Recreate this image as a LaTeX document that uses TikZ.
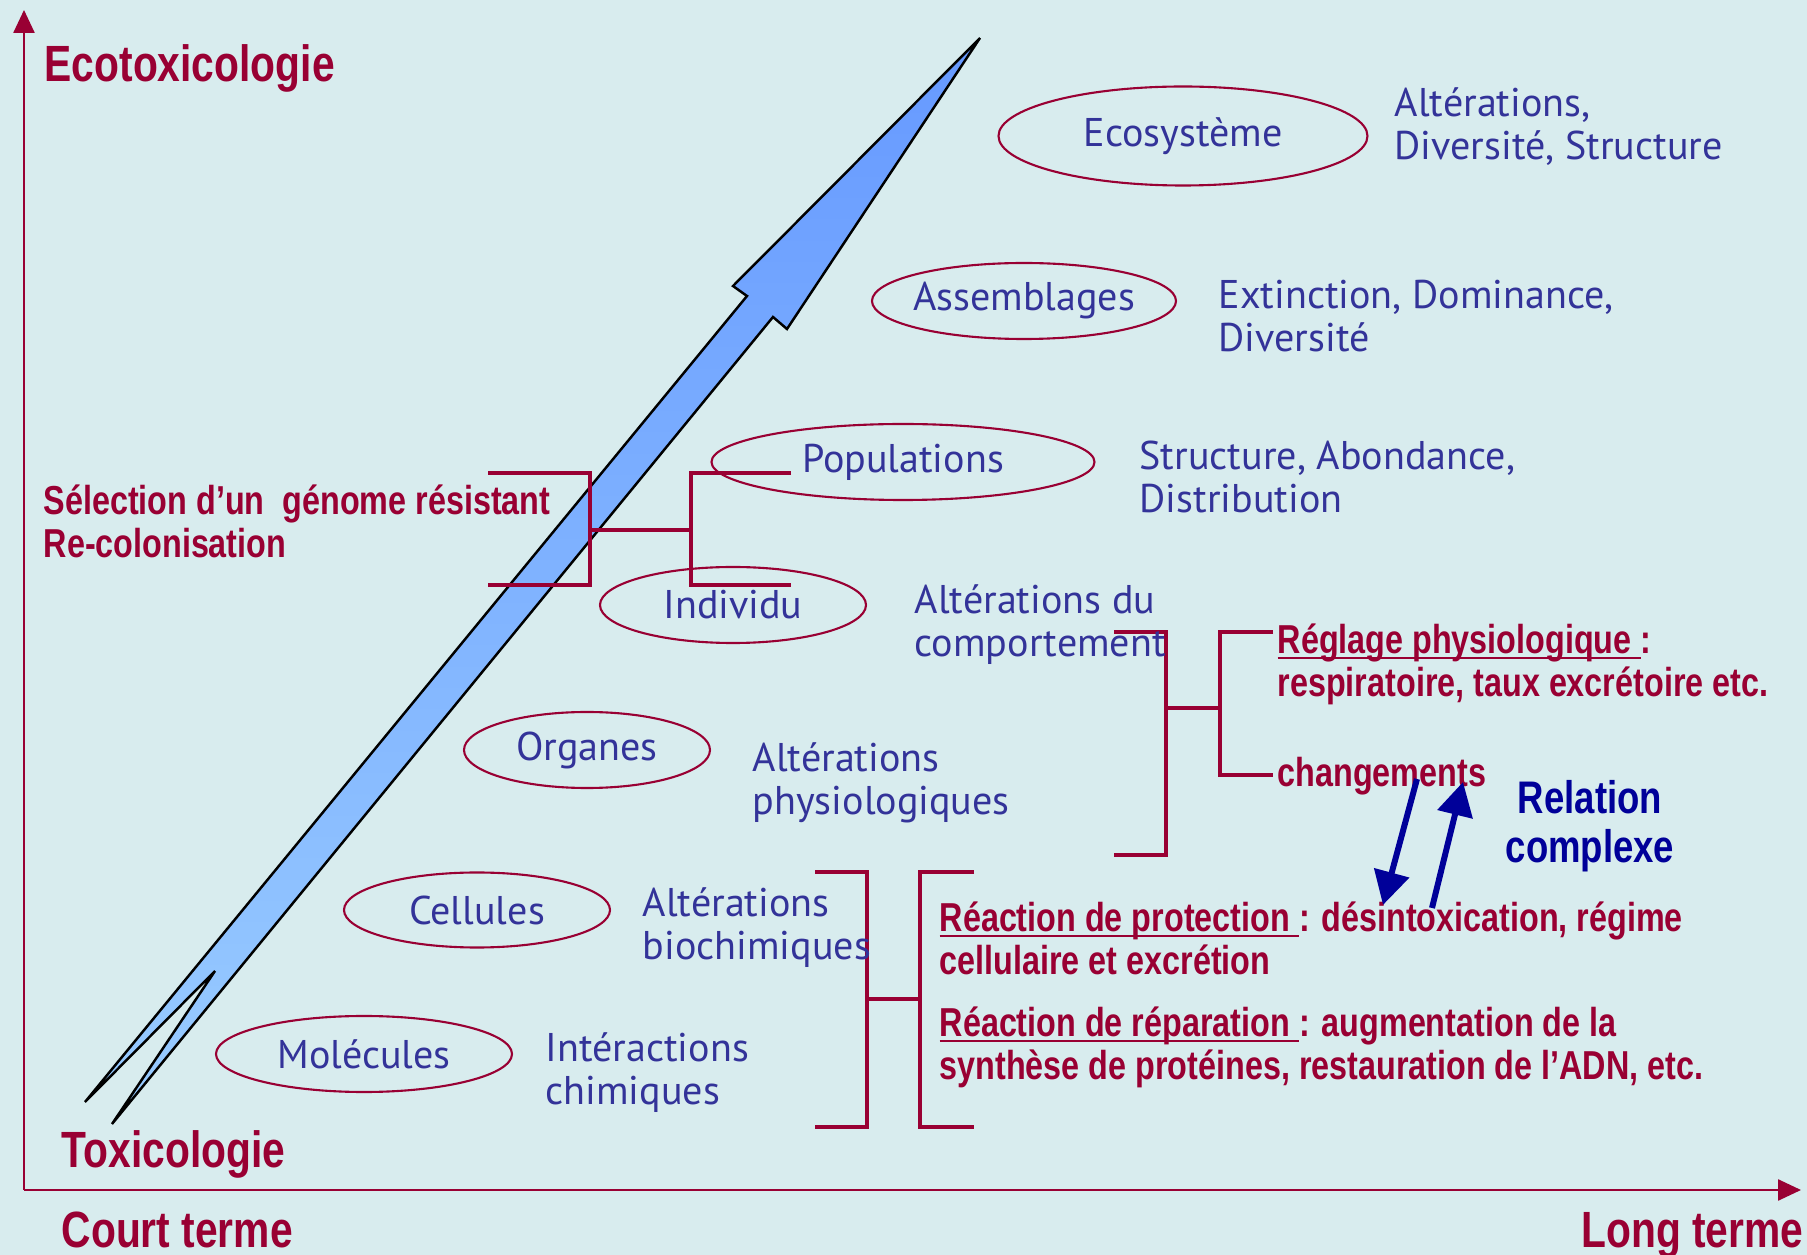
\documentclass[tikz,border=0pt]{standalone}
\usepackage{fontspec}
\usepackage{graphicx}
\setmainfont{PT Sans}
\newfontfamily\heavyfont{Liberation Sans}
\usetikzlibrary{shapes.geometric,arrows.meta}
\definecolor{wine}{RGB}{153,0,51}
\definecolor{ink}{RGB}{51,51,153}
\definecolor{navy}{RGB}{0,0,153}
\definecolor{sea}{RGB}{216,236,238}
\definecolor{arrowtop}{RGB}{102,153,255}
\definecolor{arrowbot}{RGB}{153,204,255}
\newcommand{\heavy}[1]{\scalebox{0.8}[1]{#1}}
\newcommand{\ul}[1]{\underline{\smash{#1}}}
\tikzset{
 blob/.style={ellipse,draw=wine,line width=0.6pt,inner ysep=0pt,inner xsep=-1mm,text=ink,font=\fontsize{11.4}{12.4}\selectfont},
 effect/.style={anchor=base west,align=left,inner sep=0pt,text=ink,font=\fontsize{11.4}{12.4}\selectfont},
 big/.style={anchor=base west,inner sep=0pt,text=wine,font=\heavyfont\bfseries\fontsize{14.5}{16}\selectfont},
 note/.style={anchor=base west,align=left,inner sep=0pt,text=wine,font=\heavyfont\bfseries\fontsize{11.5}{12.5}\selectfont},
 bracket/.style={wine,line width=1pt},
 axis/.style={wine,line width=0.5pt,-{Triangle[length=6.5pt,width=6pt]}},
 link/.style={navy,line width=1.7pt,-{Triangle[length=9.5pt,width=10pt]}},
}

\begin{document}
\begin{tikzpicture}[x=0.1mm,y=-0.1mm]
\useasboundingbox (0,0) rectangle (1807,1255);
\fill[sea] (0,0) rectangle (1807,1255);
\coordinate (o) at (24,1190);
\coordinate (ytop) at (24,10);
\coordinate (xend) at (1801,1190);
\draw[axis] (o) -- (ytop);
\draw[axis] (o) -- (xend);
\draw[draw=black,line width=0.7pt,top color=arrowtop,bottom color=arrowbot] (980,38) -- (787,329) -- (773,317) -- (112,1124) -- (215,971) -- (85,1102) -- (747,296) -- (733,286) -- cycle;
\draw[bracket] (488,473) -- (590,473) -- (590,585) -- (488,585);
\draw[bracket] (590,530) -- (691,530);
\draw[bracket] (791,473) -- (691,473) -- (691,585) -- (791,585);
\draw[bracket] (1114,632) -- (1166,632) -- (1166,855) -- (1114,855);
\draw[bracket] (1166,708) -- (1220,708);
\draw[bracket] (1273,632) -- (1220,632) -- (1220,775) -- (1273,775);
\draw[bracket] (815,872) -- (867,872) -- (867,1127) -- (815,1127);
\draw[bracket] (867,999) -- (920,999);
\draw[bracket] (974,872) -- (920,872) -- (920,1127) -- (974,1127);
\draw(1183,136) node[blob,minimum width=3.69cm,minimum height=0.99cm] (eco) {Ecosystème};
\draw(1024,301) node[blob,minimum width=3.04cm,minimum height=0.76cm] (assem) {Assemblages};
\draw(903,462) node[blob,minimum width=3.83cm,minimum height=0.76cm] (popul) {Populations};
\draw(733,605) node[blob,minimum width=2.66cm,minimum height=0.76cm] (indiv) {Individu};
\draw(587,750) node[blob,minimum width=2.46cm,minimum height=0.76cm] (organ) {Organes};
\draw(477,910) node[blob,minimum width=2.66cm,minimum height=0.75cm] (cell) {Cellules};
\draw(364,1054) node[blob,minimum width=2.96cm,minimum height=0.76cm] (mol) {Molécules};
\draw(1394,160) node[effect] (eco-fx) {Altérations,\\Diversité, Structure};
\draw(1218,352) node[effect] (assem-fx) {Extinction, Dominance,\\Diversité};
\draw(1139,513) node[effect] (popul-fx) {Structure, Abondance,\\Distribution};
\draw(914,657) node[effect] (indiv-fx) {Altérations du\\comportement};
\draw(752,815) node[effect] (organ-fx) {Altérations\\physiologiques};
\draw(642,960) node[effect] (cell-fx) {Altérations\\biochimiques};
\draw(545,1105) node[effect] (mol-fx) {Intéractions\\chimiques};
\draw(44,82) node[big] (ecotox) {\heavy{Ecotoxicologie}};
\draw(61,1168) node[big] (toxico) {\heavy{Toxicologie}};
\draw(61,1248) node[big] (court) {\heavy{Court terme}};
\draw(1804,1248) node[big,anchor=base east] (long) {\heavy{Long terme}};
\draw(43,558) node[note] (select) {\heavy{Sélection d’un\ \ génome résistant}\\\heavy{Re-colonisation}};
\draw(1277,697) node[note] (reglage) {\heavy{\ul{Réglage physiologique\ }:}\\\heavy{respiratoire, taux excrétoire etc.}};
\draw(1277,787) node[note] (chg) {\heavy{changements}};
\draw(939,975) node[note] (protec) {\heavy{\ul{Réaction de protection\ }: désintoxication, régime}\\\heavy{cellulaire et excrétion}};
\draw(939,1080) node[note] (repar) {\heavy{\ul{Réaction de réparation\ }: augmentation de la}\\\heavy{synthèse de protéines, restauration de l’ADN, etc.}};
\draw(1590,863) node[note,anchor=base,align=center,text=navy,font=\heavyfont\bfseries\fontsize{13}{14.2}\selectfont] (relation) {\heavy{Relation}\\\heavy{complexe}};
\coordinate (dn-a) at (1417,779);
\coordinate (dn-b) at (1383,905);
\coordinate (up-a) at (1432,908);
\coordinate (up-b) at (1463,782);
\draw[link] (dn-a) -- (dn-b);
\draw[link] (up-a) -- (up-b);
\end{tikzpicture}
\end{document}
